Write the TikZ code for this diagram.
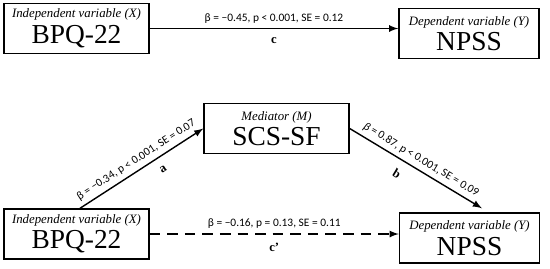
\documentclass[tikz,border=0pt]{standalone}
\usepackage{fontspec}
\setmainfont{Liberation Serif}
\newfontfamily\statfont{Carlito}
\usetikzlibrary{arrows,calc}

\begin{document}
\begin{tikzpicture}[
    var/.style={draw, line width=0.8pt, minimum width=2.9cm, minimum height=1cm, inner sep=0pt, align=center},
    stat/.style={font=\statfont\fontsize{6.5}{7}\selectfont, inner sep=2.5pt},
    lab/.style={font=\bfseries\fontsize{7.2}{7}\selectfont, inner sep=5pt},
    arr/.style={line width=0.8pt, -latex}
]
    \useasboundingbox (0,0) rectangle (11,5.36);

    % total effect
    \node[var] (xtop) at (1.53,4.79) {\fontsize{7.3}{8}\selectfont\textit{Independent variable (X)}\\[2.5pt] \fontsize{15.6}{16}\selectfont BPQ-22};
    \node[var, minimum width=2.8cm] (ytop) at (9.38,4.69) {\fontsize{7.3}{8}\selectfont\textit{Dependent variable (Y)}\\[2.5pt] \fontsize{15.6}{16}\selectfont NPSS};
    \draw[arr] (xtop.east) -- (ytop.west |- xtop.east)
        node[midway, above, stat] {β = −0.45, p < 0.001, SE = 0.12}
        node[midway, below, lab] {c};

    % mediation model
    \node[var] (med) at (5.53,2.79) {\fontsize{7.3}{8}\selectfont\textit{Mediator (M)}\\[2.5pt] \fontsize{15.6}{16}\selectfont SCS-SF};
    \node[var] (xbot) at (1.53,0.68) {\fontsize{7.3}{8}\selectfont\textit{Independent variable (X)}\\[2.5pt] \fontsize{15.6}{16}\selectfont BPQ-22};
    \node[var, minimum width=2.8cm] (ybot) at (9.39,0.60) {\fontsize{7.3}{8}\selectfont\textit{Dependent variable (Y)}\\[2.5pt] \fontsize{15.6}{16}\selectfont NPSS};

    \draw[arr] ([xshift=0.07cm]xbot.north) -- (med.west)
        node[midway, sloped, above, stat] {β = −0.34, p < 0.001, SE = 0.07}
        node[pos=0.62, sloped, below, lab] {a};
    \draw[arr] (med.east) -- ([shift={(0.25,0.08)}]ybot.north)
        node[midway, sloped, above, stat] {\textit{β} = 0.87, p < 0.001, SE = 0.09}
        node[pos=0.41, sloped, below, lab] {b};
    \draw[arr, dashed, dash pattern=on 6pt off 4pt] (xbot.east) -- (ybot.west |- xbot.east)
        node[midway, above, stat] {β = −0.16, p = 0.13, SE = 0.11}
        node[midway, below, lab] {c’};
\end{tikzpicture}
\end{document}
